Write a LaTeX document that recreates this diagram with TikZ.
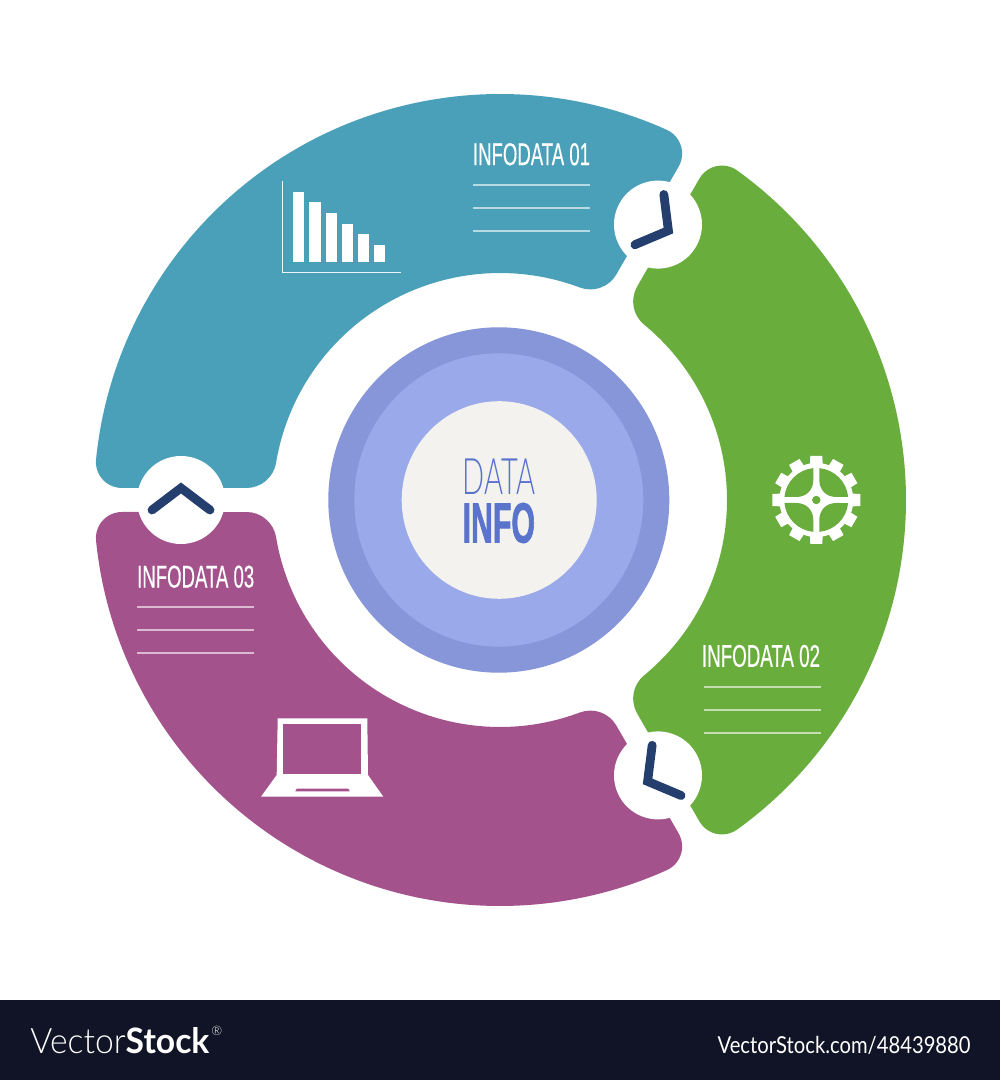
\documentclass[tikz,border=0pt]{standalone}
\usepackage{graphicx}
\usepackage{fontspec}
\usetikzlibrary{calc}
\setmainfont{Liberation Sans}
\newfontfamily\lightf{Lato Light}
\newfontfamily\regf{Lato}
\newfontfamily\labf[FakeBold=.5]{Liberation Sans}
\newfontfamily\heavyf[FakeBold=2]{Liberation Sans Bold}
\definecolor{segblue}{HTML}{4AA0B8}
\definecolor{seggreen}{HTML}{69AD3D}
\definecolor{segpurple}{HTML}{A3528C}
\definecolor{navy}{HTML}{243F6E}
\definecolor{ringout}{HTML}{8795D9}
\definecolor{ringin}{HTML}{99A9EA}
\definecolor{corefill}{HTML}{F3F2EE}
\definecolor{datatext}{HTML}{5A74CC}
\definecolor{footer}{HTML}{111427}
\newcommand{\segpath}{%
  (-54.26:406) arc[start angle=-54.26,end angle=54.26,radius=406]
  arc[start angle=54.26,end angle=150,radius=26]
  -- ($(50.59:257)+(150:30)$)
  arc[start angle=150,end angle=230.59,radius=30]
  arc[start angle=50.59,end angle=-50.59,radius=227]
  arc[start angle=129.41,end angle=210,radius=30]
  -- ($(-54.26:380)+(210:26)$)
  arc[start angle=210,end angle=305.74,radius=26] -- cycle}
\newcommand{\fitted}[3]{\resizebox{#1pt}{#2pt}{#3}}
\tikzset{
  chev/.style={draw=navy,line width=4.4pt,line cap=round,line join=miter},
  rule/.style={draw=white,opacity=.6,line width=.55pt},
  lab/.style={inner sep=0pt,text=white,anchor=center},
  ico/.style={fill=white,draw=none},
}
\begin{document}
\begin{tikzpicture}[x=.5pt,y=.5pt]
\useasboundingbox (-500,-580) rectangle (500,500);
\fill[white] (-500,-580) rectangle (500,500);
% segments
\fill[seggreen] \segpath;
\begin{scope}[rotate=120]\fill[segblue] \segpath;\end{scope}
\begin{scope}[rotate=240]\fill[segpurple] \segpath;\end{scope}
% joints
\foreach \a in {0,-120,-240}{
  \begin{scope}[shift={(-1,0)},rotate=\a]
    \fill[white] (180:318) circle[radius=44];
    \coordinate (ca) at (-347,-10);
    \coordinate (cb) at (-318,12);
    \coordinate (cc) at (-289,-10);
    \draw[chev] (ca) -- (cb) -- (cc);
  \end{scope}
}
% centre
\fill[ringout] (-1.2,0) ellipse[x radius=170.5,y radius=172.7];
\fill[ringin] (-1.2,0) ellipse[x radius=144.5,y radius=146.7];
\fill[corefill] (-0.8,0) ellipse[x radius=97.5,y radius=98.8];
% everything below is in reference pixel coordinates
\begin{scope}[shift={(-500,500)},yscale=-1]
  \node[lab,text=datatext] (data) at (498.8,477.2) {\fitted{36.2}{17.8}{\lightf DATA}};
  \node[lab,text=datatext] (info) at (498.8,523) {\fitted{36.2}{19.7}{\heavyf INFO}};
  \node[lab] (l1) at (531.5,154.3) {\fitted{58.5}{11}{\labf INFODATA 01}};
  \node[lab] (l2) at (761,656) {\fitted{59}{11}{\labf INFODATA 02}};
  \node[lab] (l3) at (195.7,576.7) {\fitted{58.5}{11}{\labf INFODATA 03}};
  \foreach \x/\y in {473/185,473/208,473/231,704/687,704/710,704/733,137/607,137/630,137/653}
    \draw[rule] (\x,\y) -- ++(117,0);
  % bar chart
  \draw[draw=white,opacity=.9,line width=.6pt] (282.7,181) -- (282.7,272.7) -- (401,272.7);
  \foreach \l/\r/\t in {293.3/304.3/191.7,309.3/320.7/202.3,325.7/336.7/213,342/353/223.7,358/369/234.3,374/385.3/245.3}
    \fill[ico] (\l,\t) rectangle (\r,261.7);
  % laptop
  \fill[ico] (277.7,718.3) -- (367.3,718.3) -- (368,775) -- (383.3,796.7) -- (261,796.7) -- (276.7,775) -- cycle;
  \fill[segpurple] (283.3,724.3) rectangle (361.3,774.3);
  \fill[segpurple] (296.7,788.7) -- (348.3,788.7) -- (349.7,791.3) -- (295.3,791.3) -- cycle;
  % gear
  \begin{scope}[shift={(816.3,500)}]
    \fill[ico] (0,0) circle[radius=37];
    \foreach \a in {0,30,...,330}
      \fill[ico,rotate=\a] (33,-6.5) -- (44,-6) -- (44,6) -- (33,6.5) -- cycle;
    \foreach \a in {0,90,180,270}
      \fill[seggreen,rotate=\a] (3,31.86) arc[start angle=84.6,end angle=5.4,radius=32]
        -- (20,3) .. controls (10,3) and (3,10) .. (3,20) -- cycle;
    \fill[seggreen] (0,0) circle[radius=4.2];
  \end{scope}
  % footer
  \fill[footer] (0,1000) rectangle (1000,1080);
  \node[lab,anchor=west] (vs) at (30,1040.5) {\fitted{89.5}{13}{\lightf Vector\regf\bfseries Stock}};
  \node[lab,anchor=west] (reg) at (211,1031) {\fontsize{6.5}{7}\selectfont\lightf ®};
  \node[lab,anchor=east] (url) at (971,1045.5) {\fitted{126.5}{8.6}{\regf VectorStock.com/48439880}};
\end{scope}
\end{tikzpicture}
\end{document}
